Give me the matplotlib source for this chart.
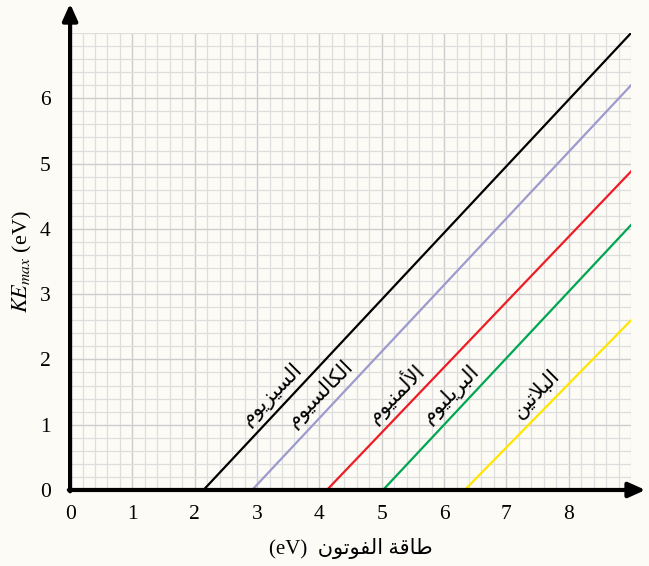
import matplotlib
matplotlib.use("Agg")
import matplotlib.pyplot as plt
from matplotlib.ticker import MultipleLocator

# data
metals = ["السيزيوم", "الكالسيوم", "الألمنيوم", "البريليوم", "البلاتين"]
work_fn = [2.14, 2.92, 4.12, 5.02, 6.33]      # x where KE = 0 (eV)
ke_end = [7.0, 6.2, 4.88, 4.06, 2.6]          # KE at x = 9 (eV)
x_end = 9.0
colors = ["#000000", "#9d9acd", "#ee1c25", "#00a651", "#ffe600"]
xticks = list(range(9))
yticks = list(range(7))
xlabel_ar = "طاقة الفوتون"

# matplotlib has no arabic shaping, so join letters by hand
FORMS = {  # isolated, final, initial, medial
    'ا': ('\uFE8D', '\uFE8E', None, None),
    'أ': ('\uFE83', '\uFE84', None, None),
    'ب': ('\uFE8F', '\uFE90', '\uFE91', '\uFE92'),
    'ة': ('\uFE93', '\uFE94', None, None),
    'ت': ('\uFE95', '\uFE96', '\uFE97', '\uFE98'),
    'ر': ('\uFEAD', '\uFEAE', None, None),
    'ز': ('\uFEAF', '\uFEB0', None, None),
    'س': ('\uFEB1', '\uFEB2', '\uFEB3', '\uFEB4'),
    'ط': ('\uFEC1', '\uFEC2', '\uFEC3', '\uFEC4'),
    'ف': ('\uFED1', '\uFED2', '\uFED3', '\uFED4'),
    'ق': ('\uFED5', '\uFED6', '\uFED7', '\uFED8'),
    'ك': ('\uFED9', '\uFEDA', '\uFEDB', '\uFEDC'),
    'ل': ('\uFEDD', '\uFEDE', '\uFEDF', '\uFEE0'),
    'م': ('\uFEE1', '\uFEE2', '\uFEE3', '\uFEE4'),
    'ن': ('\uFEE5', '\uFEE6', '\uFEE7', '\uFEE8'),
    'و': ('\uFEED', '\uFEEE', None, None),
    'ي': ('\uFEF1', '\uFEF2', '\uFEF3', '\uFEF4'),
}
LAM_ALEF = {'ا': ('\uFEFB', '\uFEFC'), 'أ': ('\uFEF7', '\uFEF8')}


def shape(word):
    out = []
    i = 0
    n = len(word)
    while i < n:
        c = word[i]
        prev = word[i - 1] if i > 0 else ''
        joins_prev = prev in FORMS and FORMS[prev][2] is not None
        if c == 'ل' and i + 1 < n and word[i + 1] in LAM_ALEF:
            iso, fin = LAM_ALEF[word[i + 1]]
            out.append(fin if joins_prev else iso)
            i += 2
            continue
        if c not in FORMS:
            out.append(c)
            i += 1
            continue
        iso, fin, ini, med = FORMS[c]
        nxt = word[i + 1] if i + 1 < n else ''
        joins_next = ini is not None and nxt in FORMS
        if joins_prev and joins_next:
            out.append(med)
        elif joins_prev:
            out.append(fin)
        elif joins_next:
            out.append(ini)
        else:
            out.append(iso)
        i += 1
    return ''.join(reversed(out))


plt.rcParams['font.family'] = ['Liberation Serif', 'DejaVu Sans']
plt.rcParams['mathtext.fontset'] = 'stix'

bg = "#fdfbf6"
fig = plt.figure(figsize=(6.49, 5.66), dpi=100, facecolor=bg)
ax = fig.add_axes([0.108, 0.1343, 0.8644, 0.8074], facecolor=bg)

ax.set_xlim(0, 9)
ax.set_ylim(0, 7)
ax.xaxis.set_minor_locator(MultipleLocator(0.2))
ax.yaxis.set_minor_locator(MultipleLocator(0.2))
ax.set_xticks(xticks)
ax.set_yticks(yticks)
ax.grid(which='minor', color='#dedede', lw=0.9)
ax.grid(which='major', color='#cdcdcd', lw=1.0)
ax.set_axisbelow(True)
ax.tick_params(which='both', length=0, labelsize=15.5)
ax.tick_params(axis='x', pad=11)
ax.tick_params(axis='y', pad=14)
for s in ax.spines.values():
    s.set_visible(False)

for name, phi, ke, col in zip(metals, work_fn, ke_end, colors):
    ax.plot([phi, x_end], [0, ke], color=col, lw=1.6, zorder=3)
    y0 = 1.3
    x0 = phi + y0 * (x_end - phi) / ke
    ax.annotate(shape(name), xy=(x0, y0), xytext=(-3, 3), textcoords='offset points',
                rotation=45, transform_rotates_text=True, rotation_mode='anchor',
                ha='center', va='bottom', fontsize=15, family='DejaVu Sans',
                xycoords='data')

# axes with arrow heads
arrow = dict(arrowstyle='-|>,head_length=1.0,head_width=0.45', lw=3, color='black',
             shrinkA=0, shrinkB=0)
ax.annotate('', xy=(9.23, 0), xytext=(-0.02, 0), arrowprops=arrow, annotation_clip=False)
ax.annotate('', xy=(0, 7.45), xytext=(0, -0.02), arrowprops=arrow, annotation_clip=False)

ax.set_xlabel("(eV)  " + shape(xlabel_ar), fontsize=15, labelpad=10)
ax.set_ylabel(r"$KE_{max}$ (eV)", fontsize=16, labelpad=4)

fig.savefig("out.png", dpi=100, facecolor=bg)
